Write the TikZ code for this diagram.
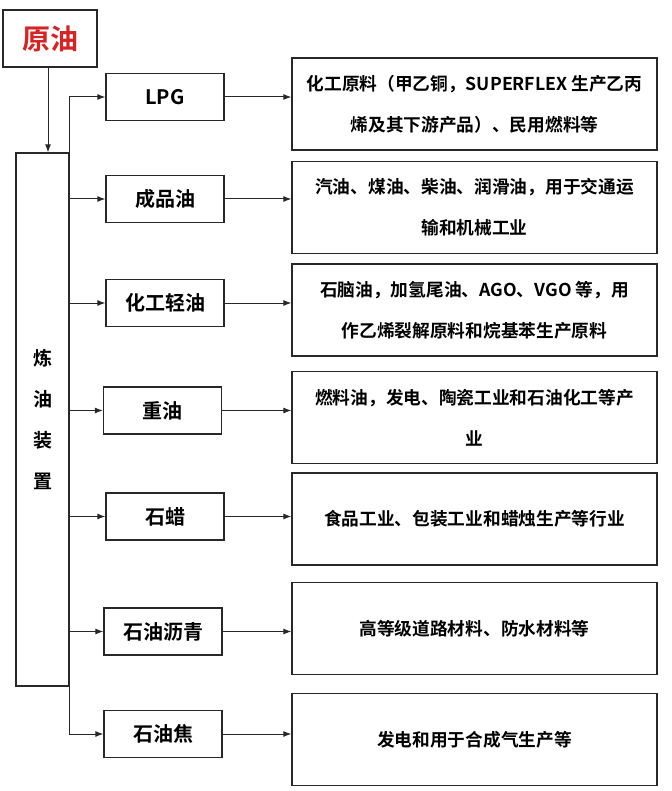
\documentclass[tikz,border=0pt]{standalone}
\usepackage{fontspec}
\usetikzlibrary{arrows.meta,calc}
\setmainfont{Noto Sans CJK SC}[BoldFont={Noto Sans CJK SC Bold}]
\definecolor{lc}{RGB}{40,40,40}
\definecolor{oilred}{RGB}{215,35,35}
\tikzset{
  box/.style={draw=lc,line width=1.3pt,fill=white,inner sep=0pt,align=center},
  midbox/.style={box,minimum width=118pt,minimum height=47pt,font=\bfseries\fontsize{20}{24}\selectfont},
  usebox/.style={box,minimum width=365pt,minimum height=92pt,font=\bfseries\fontsize{17.7}{41}\selectfont},
  conn/.style={draw=lc,line width=1pt,-{Latex[length=8pt,width=6pt]}}
}
\begin{document}
\begin{tikzpicture}[x=1pt,y=-1pt]
\useasboundingbox (0,0) rectangle (671,791);
\node[box,minimum width=94pt,minimum height=57pt,text=oilred,font=\bfseries\fontsize{28}{30}\selectfont] (crude) at (50,38.5) {原油};
\node[box,minimum width=53pt,minimum height=533pt,font=\bfseries\fontsize{19}{41}\selectfont] (refine) at (42.5,419.5) {炼\\油\\装\\置};

\node[midbox] (lpg) at (165,97) {LPG};
\node[midbox] (prod) at (165,199) {成品油};
\node[midbox] (light) at (165,303) {化工轻油};
\node[midbox] (heavy) at (162.5,410.5) {重油};
\node[midbox] (wax) at (165,516.5) {石蜡};
\node[midbox] (asph) at (163,631.5) {石油沥青};
\node[midbox] (coke) at (163,734) {石油焦};

\node[usebox] (u1) at (474.5,104) {化工原料（甲乙铜，SUPERFLEX 生产乙丙\\烯及其下游产品）、民用燃料等};
\node[usebox] (u2) at (474.5,207.5) {汽油、煤油、柴油、润滑油，用于交通运\\输和机械工业};
\node[usebox] (u3) at (474.5,310) {石脑油，加氢尾油、AGO、VGO 等，用\\作乙烯裂解原料和烷基苯生产原料};
\node[usebox] (u4) at (474.5,417.5) {燃料油，发电、陶瓷工业和石油化工等产\\业};
\node[usebox] (u5) at (474.5,519) {食品工业、包装工业和蜡烛生产等行业};
\node[usebox] (u6) at (474.5,628.5) {高等级道路材料、防水材料等};
\node[usebox] (u7) at (474.5,739.5) {发电和用于合成气生产等};

\draw[conn] (crude.south -| 48,0) -- (refine.north -| 48,0);
\draw[conn] (refine.north east) |- (lpg.west);
\draw[conn] (refine.east |- prod.west) -- (prod.west);
\draw[conn] (refine.east |- light.west) -- (light.west);
\draw[conn] (refine.east |- heavy.west) -- (heavy.west);
\draw[conn] (refine.east |- wax.west) -- (wax.west);
\draw[conn] (refine.east |- asph.west) -- (asph.west);
\draw[conn] (refine.south east) |- (coke.west);

\draw[conn] (lpg.east) -- (lpg.east -| u1.west);
\draw[conn] (prod.east) -- (prod.east -| u2.west);
\draw[conn] (light.east) -- (light.east -| u3.west);
\draw[conn] (heavy.east) -- (heavy.east -| u4.west);
\draw[conn] (wax.east) -- (wax.east -| u5.west);
\draw[conn] (asph.east) -- (asph.east -| u6.west);
\draw[conn] (coke.east) -- (coke.east -| u7.west);
\end{tikzpicture}
\end{document}
